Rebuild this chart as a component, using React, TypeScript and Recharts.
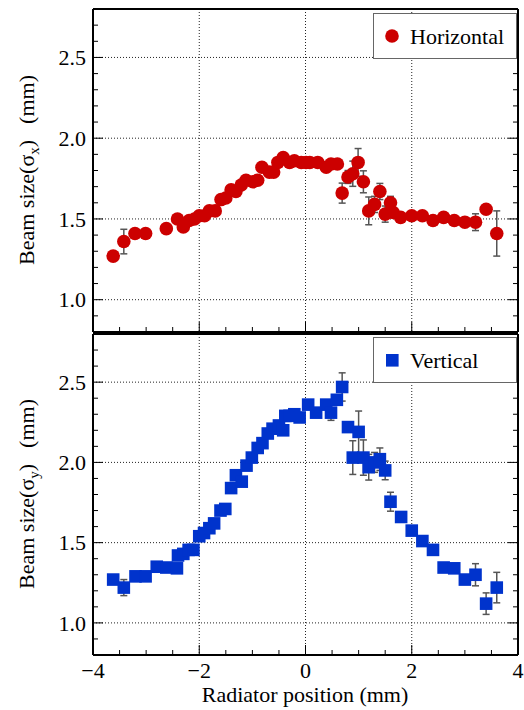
import React from 'react';
import { ScatterChart, Scatter, XAxis, YAxis, CartesianGrid, ErrorBar } from 'recharts';

// horizontal beam size vs radiator position
const horizX = [
  -3.62, -3.42, -3.21, -3.01, -2.62, -2.41, -2.3, -2.19, -2.09, -2.0, -1.9, -1.81, -1.7, -1.59, -1.5,
  -1.4, -1.31, -1.21, -1.12, -0.99, -0.9, -0.82, -0.68, -0.6, -0.52, -0.42, -0.3, -0.21, -0.08, 0.01,
  0.08, 0.23, 0.39, 0.48, 0.6, 0.69, 0.8, 0.89, 0.99, 1.09, 1.19, 1.3, 1.4, 1.5, 1.6,
  1.65, 1.79, 2.0, 2.2, 2.4, 2.6, 2.8, 3.0, 3.2, 3.4, 3.6,
];
const horizY = [
  1.27, 1.36, 1.41, 1.41, 1.44, 1.5, 1.45, 1.49, 1.5, 1.52, 1.52, 1.55, 1.55, 1.62, 1.63,
  1.68, 1.67, 1.71, 1.74, 1.73, 1.74, 1.82, 1.79, 1.79, 1.85, 1.88, 1.85, 1.86, 1.85, 1.85,
  1.85, 1.85, 1.82, 1.84, 1.84, 1.66, 1.76, 1.78, 1.85, 1.73, 1.55, 1.59, 1.67, 1.53, 1.6,
  1.54, 1.51, 1.52, 1.52, 1.49, 1.51, 1.49, 1.48, 1.48, 1.56, 1.41,
];
const horizErr = [
  0, 0.076, 0, 0, 0, 0, 0, 0, 0, 0, 0, 0, 0, 0, 0,
  0, 0, 0, 0, 0, 0, 0, 0, 0, 0, 0, 0, 0, 0, 0,
  0, 0, 0, 0, 0, 0.062, 0.04, 0.078, 0.086, 0.068, 0.086, 0.05, 0.05, 0.05, 0.04,
  0.03, 0.03, 0, 0, 0, 0, 0, 0, 0.052, 0, 0.14,
];

// vertical beam size vs radiator position
const vertX = [
  -3.62, -3.42, -3.2, -3.01, -2.8, -2.62, -2.42, -2.4, -2.3, -2.2, -2.11, -2.0, -1.91, -1.81, -1.72,
  -1.6, -1.51, -1.4, -1.31, -1.2, -1.11, -1.01, -0.9, -0.81, -0.71, -0.62, -0.5, -0.42, -0.38, -0.3,
  -0.21, -0.11, 0.05, 0.2, 0.39, 0.48, 0.59, 0.69, 0.8, 0.89, 1.0, 1.09, 1.19, 1.3, 1.4,
  1.5, 1.6, 1.8, 2.0, 2.2, 2.4, 2.6, 2.8, 3.0, 3.2, 3.4, 3.6,
];
const vertY = [
  1.27, 1.22, 1.29, 1.29, 1.35, 1.345, 1.34, 1.42, 1.43, 1.455, 1.455, 1.54, 1.56, 1.59, 1.62,
  1.7, 1.71, 1.84, 1.92, 1.88, 1.98, 2.03, 2.09, 2.12, 2.18, 2.21, 2.23, 2.2, 2.29, 2.29,
  2.3, 2.28, 2.36, 2.31, 2.36, 2.31, 2.39, 2.47, 2.22, 2.03, 2.19, 2.03, 1.97, 2.0, 2.02,
  1.95, 1.755, 1.66, 1.575, 1.51, 1.455, 1.345, 1.34, 1.27, 1.3, 1.12, 1.22,
];
const vertErr = [
  0, 0.05, 0, 0, 0, 0, 0, 0, 0, 0, 0, 0, 0, 0, 0,
  0, 0, 0, 0, 0, 0, 0, 0, 0, 0, 0, 0, 0, 0, 0,
  0, 0, 0, 0, 0, 0.048, 0, 0.088, 0, 0.105, 0.13, 0.11, 0.08, 0.062, 0.07,
  0.058, 0.059, 0, 0, 0, 0, 0, 0, 0, 0.069, 0.067, 0.095,
];

const xTicks = [-4, -3.5, -3, -2.5, -2, -1.5, -1, -0.5, 0, 0.5, 1, 1.5, 2, 2.5, 3, 3.5, 4];
const xMajor = [-4, -2, 0, 2, 4];
const xLabels = ['\u22124', '\u22122', '0', '2', '4'];
const yTicks = [
  0.8, 0.9, 1.0, 1.1, 1.2, 1.3, 1.4, 1.5, 1.6, 1.7, 1.8, 1.9, 2.0, 2.1, 2.2, 2.3, 2.4, 2.5, 2.6, 2.7, 2.8,
];
const yMajor = [1.0, 1.5, 2.0, 2.5];
const yLabels = ['1.0', '1.5', '2.0', '2.5'];

const RED = '#cc0000';
const BLUE = '#0033cc';
const FONT = '"Liberation Serif", "Times New Roman", serif';

const horizData = horizX.map((x, i) => ({ x, y: horizY[i], err: horizErr[i] }));
const vertData = vertX.map((x, i) => ({ x, y: vertY[i], err: vertErr[i] }));

const majorIndex = (v: number, majors: number[]) => majors.findIndex((m) => Math.abs(m - v) < 1e-6);

const makeTick = (side: 'left' | 'right' | 'top' | 'bottom', majors: number[], labels?: string[]) =>
  (props: any) => {
    const { x, y, payload } = props;
    const idx = majorIndex(payload.value, majors);
    const len = idx >= 0 ? 10 : 5;
    let line;
    if (side === 'left') line = <line x1={x} y1={y} x2={x + len} y2={y} stroke="#000" />;
    else if (side === 'right') line = <line x1={x} y1={y} x2={x - len} y2={y} stroke="#000" />;
    else if (side === 'bottom') line = <line x1={x} y1={y} x2={x} y2={y - len} stroke="#000" />;
    else line = <line x1={x} y1={y} x2={x} y2={y + len} stroke="#000" />;
    let label = null;
    if (labels && idx >= 0) {
      if (side === 'left')
        label = (
          <text x={x - 7} y={y} dy="0.35em" textAnchor="end" fontFamily={FONT} fontSize={22} fill="#000">
            {labels[idx]}
          </text>
        );
      if (side === 'bottom')
        label = (
          <text x={x} y={y + 23} textAnchor="middle" fontFamily={FONT} fontSize={22} fill="#000">
            {labels[idx]}
          </text>
        );
    }
    return (
      <g>
        {line}
        {label}
      </g>
    );
  };

const Dot = (p: any) => <circle cx={p.cx} cy={p.cy} r={6.8} fill={RED} />;
const Sq = (p: any) => <rect x={p.cx - 6.3} y={p.cy - 6.3} width={12.6} height={12.6} fill={BLUE} />;

interface PanelProps {
  data: { x: number; y: number; err: number }[];
  shape: (p: any) => React.ReactElement;
  top: number;
  height: number;
  topAxis: number;
  bottomAxis: number;
  xLabelled: boolean;
}

function Panel({ data, shape, top, height, topAxis, bottomAxis, xLabelled }: PanelProps) {
  const frame = { stroke: '#000', strokeWidth: 2 };
  return (
    <div style={{ position: 'absolute', left: 0, top }}>
      <ScatterChart width={524} height={height} margin={{ top: 0, right: 0, bottom: 0, left: 0 }}>
        <CartesianGrid
          xAxisId="b"
          yAxisId="l"
          horizontalValues={yMajor}
          verticalValues={xMajor}
          stroke="#222"
          strokeDasharray="1 2"
        />
        <XAxis
          xAxisId="b"
          type="number"
          dataKey="x"
          orientation="bottom"
          domain={[-4, 4]}
          ticks={xTicks}
          interval={0}
          height={bottomAxis}
          tickSize={0}
          tickMargin={0}
          tickLine={false}
          tick={makeTick('bottom', xMajor, xLabelled ? xLabels : undefined)}
          axisLine={frame}
          allowDataOverflow
        />
        <XAxis
          xAxisId="t"
          type="number"
          orientation="top"
          domain={[-4, 4]}
          ticks={xTicks}
          interval={0}
          height={topAxis}
          tickSize={0}
          tickMargin={0}
          tickLine={false}
          tick={makeTick('top', xMajor)}
          axisLine={frame}
          allowDataOverflow
        />
        <YAxis
          yAxisId="l"
          type="number"
          dataKey="y"
          orientation="left"
          domain={[0.8, 2.8]}
          ticks={yTicks}
          interval={0}
          width={93}
          tickSize={0}
          tickMargin={0}
          tickLine={false}
          tick={makeTick('left', yMajor, yLabels)}
          axisLine={frame}
          allowDataOverflow
        />
        <YAxis
          yAxisId="r"
          type="number"
          orientation="right"
          domain={[0.8, 2.8]}
          ticks={yTicks}
          interval={0}
          width={6}
          tickSize={0}
          tickMargin={0}
          tickLine={false}
          tick={makeTick('right', yMajor)}
          axisLine={frame}
          allowDataOverflow
        />
        <Scatter xAxisId="b" yAxisId="l" data={data} dataKey="y" shape={shape} isAnimationActive={false}>
          <ErrorBar dataKey="err" direction="y" width={3.5} stroke="#555" strokeWidth={1.5} />
        </Scatter>
      </ScatterChart>
    </div>
  );
}

function YTitle({ cy, sub }: { cy: number; sub: string }) {
  return (
    <text transform={`translate(34, ${cy}) rotate(-90)`} textAnchor="middle" fontFamily={FONT} fontSize={22} fill="#000">
      Beam size(σ
      <tspan dy={5} fontSize={15}>
        {sub}
      </tspan>
      <tspan dy={-5}>)</tspan>
      <tspan dx={16}>(mm)</tspan>
    </text>
  );
}

function LegendBox({ top, label, marker }: { top: number; label: string; marker: 'dot' | 'sq' }) {
  return (
    <div
      style={{
        position: 'absolute',
        left: 373,
        top,
        width: 144,
        height: 46,
        boxSizing: 'border-box',
        border: '1.5px solid #666',
        background: '#fff',
      }}
    >
      <svg width={141} height={43} style={{ position: 'absolute', left: 0, top: 0 }}>
        {marker === 'dot' ? (
          <circle cx={18} cy={22} r={6.8} fill={RED} />
        ) : (
          <rect x={12} y={16} width={12.6} height={12.6} fill={BLUE} />
        )}
        <text x={36} y={30} fontFamily={FONT} fontSize={22} fill="#000">
          {label}
        </text>
      </svg>
    </div>
  );
}

export default function App() {
  return (
    <div style={{ position: 'absolute', left: 0, top: 0, width: 524, height: 710, background: '#fff' }}>
      <Panel data={horizData} shape={Dot} top={0} height={334} topAxis={9} bottomAxis={2} xLabelled={false} />
      <Panel data={vertData} shape={Sq} top={333} height={377} topAxis={1} bottomAxis={55} xLabelled />
      <svg width={524} height={710} style={{ position: 'absolute', left: 0, top: 0, pointerEvents: 'none' }}>
        <YTitle cy={170} sub="x" />
        <YTitle cy={494} sub="y" />
        <text x={305} y={702} textAnchor="middle" fontFamily={FONT} fontSize={22} fill="#000">
          Radiator position (mm)
        </text>
      </svg>
      <LegendBox top={13} label="Horizontal" marker="dot" />
      <LegendBox top={337} label="Vertical" marker="sq" />
    </div>
  );
}
